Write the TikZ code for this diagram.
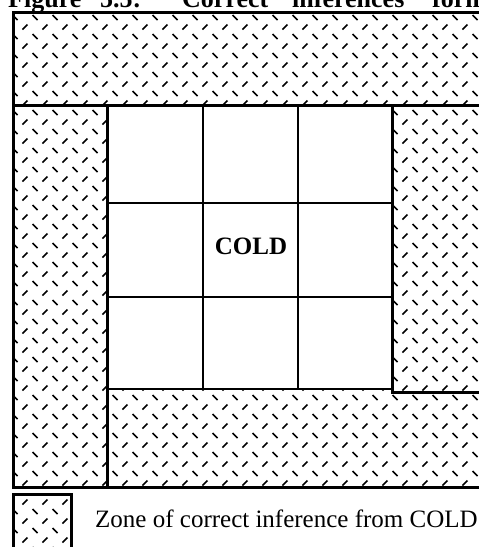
\documentclass[tikz,border=0pt]{standalone}
\usepackage{fontspec}
\setmainfont{Liberation Serif}
\usepackage{tikz}
\usetikzlibrary{positioning}
\tikzset{
  hatch/.style={line width=1.5pt, color=black},
  frameline/.style={line width=3pt, color=black},
  cellline/.style={line width=1.9pt, color=black},
  cellfont/.style={font=\fontsize{25}{30}\selectfont\bfseries, inner sep=0pt},
  legfont/.style={font=\fontsize{25}{30}\selectfont, inner sep=0pt},
  titlefont/.style={font=\fontsize{26}{30}\selectfont\bfseries, inner sep=0pt, anchor=base west}
}

\begin{document}
\begin{tikzpicture}[x=1pt,y=-1pt]
  \useasboundingbox (0,0) rectangle (479,547);

  % title, cut off at the top
  \foreach \x/\w in {8/Figure,100/5.5:,182/Correct,292/inferences,432/form}
    \node[titlefont] (t\x) at (\x,7) {\w};

  % hatched zones
  \begin{scope}
    \clip (13,12) rectangle (495,487) (13,494) rectangle (71,560);
    \foreach \r in {0,...,29}{
      \foreach \c in {0,...,24}{
        \draw[hatch] (2.5+20*\c, 10.5+19*\r) -- ++(5,-5);
        \draw[hatch] (12.5+20*\c, 15+19*\r) -- ++(5,5);
      }
    }
  \end{scope}
  \fill[white] (107,105) rectangle (392,389);

  % outer frame and zone borders
  \draw[frameline] (13,12) rectangle (495,487);
  \draw[frameline] (13,105) -- (495,105);
  \draw[frameline] (107,105) -- (107,487);
  \draw[frameline] (392,105) -- (392,392) -- (495,392);

  % the cells
  \foreach \x in {203,298}
    \draw[cellline] (\x,105) -- (\x,389);
  \foreach \y in {203,297,389}
    \draw[cellline] (107,\y) -- (392,\y);

  \node[cellfont] (cold) at (251,246) {COLD};

  % legend
  \draw[frameline] (13,494) rectangle (71,560);
  \node[legfont, anchor=base west] (leg) at (95,527) {Zone of correct inference from COLD};
\end{tikzpicture}
\end{document}
